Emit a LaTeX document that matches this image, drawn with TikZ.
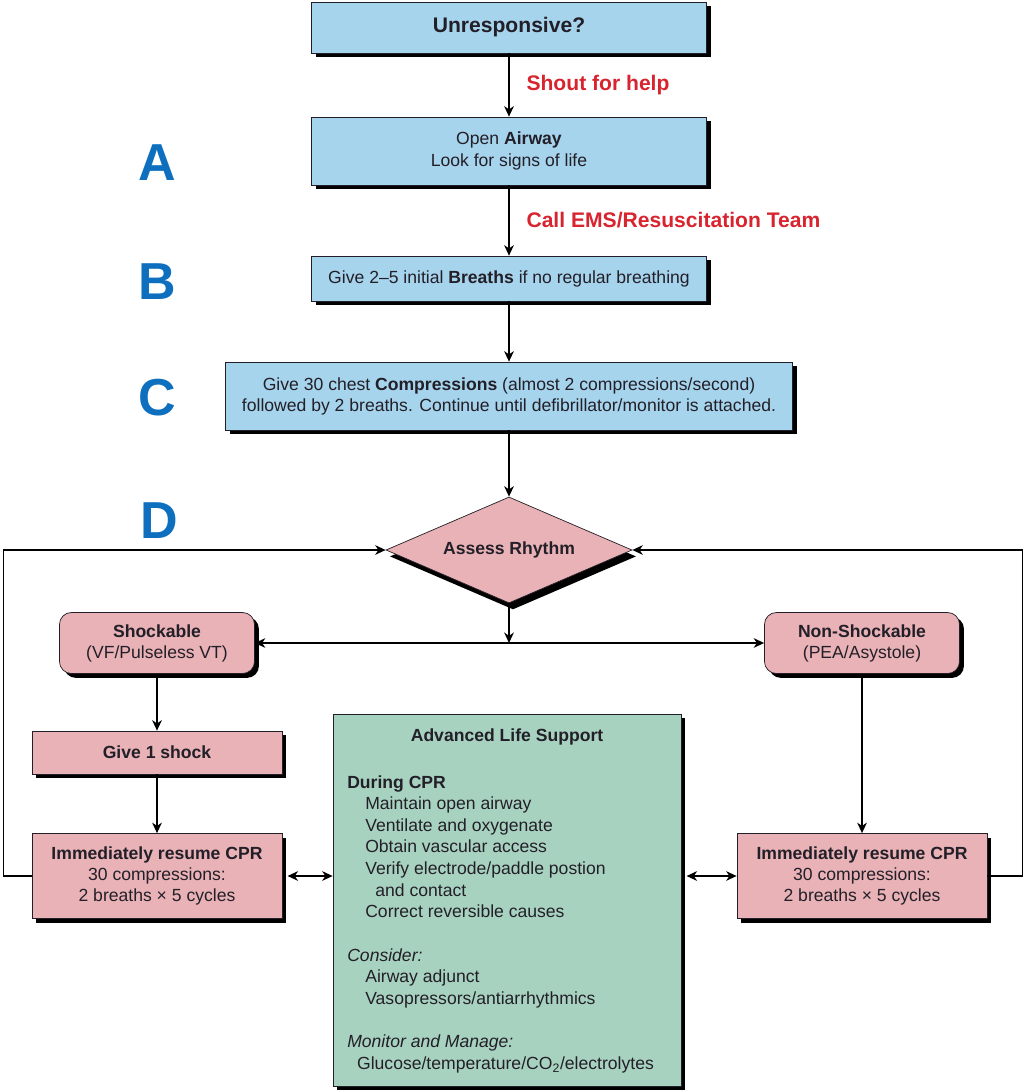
\documentclass[tikz,border=0pt]{standalone}
\usepackage{fontspec}
\setmainfont{Liberation Sans}
\usetikzlibrary{positioning,shapes.geometric,shadows,arrows.meta}
\definecolor{boxblue}{RGB}{166,212,236}
\definecolor{boxpink}{RGB}{232,178,182}
\definecolor{boxgreen}{RGB}{168,210,192}
\definecolor{letterblue}{RGB}{14,111,191}
\definecolor{callred}{RGB}{215,36,47}
\definecolor{ink}{RGB}{35,31,40}

\begin{document}
\begin{tikzpicture}[>={Stealth[length=2.6mm,width=2.4mm,inset=0.8mm]}, x=0.025cm, y=-0.025cm,
    every node/.style={font=\fontsize{12.5}{15}\selectfont, text=ink},
    boxshadow/.style={drop shadow={shadow xshift=0.11cm, shadow yshift=-0.11cm, fill=black, opacity=1}},
    bluebox/.style={draw=ink, line width=0.5pt, fill=boxblue, boxshadow, align=center, inner sep=0pt},
    pinkbox/.style={draw=ink, line width=0.5pt, fill=boxpink, boxshadow, align=center, inner sep=0pt, minimum width=6.25cm},
    pinkround/.style={pinkbox, rounded corners=0.3cm, minimum width=4.875cm, minimum height=1.525cm},
    rhythm/.style={diamond, aspect=2.32, draw=ink, line width=0.5pt, fill=boxpink, inner sep=0pt,
        drop shadow={shadow xshift=0.1cm, shadow yshift=-0.16cm, fill=black, opacity=1},
        minimum width=6.15cm, minimum height=2.65cm, font=\fontsize{12.5}{15}\selectfont\bfseries},
    greenbox/.style={draw=ink, line width=0.5pt, fill=boxgreen, boxshadow, minimum width=8.7cm, minimum height=9.3cm},
    abcd/.style={text=letterblue, font=\fontsize{37}{40}\selectfont\bfseries},
    callout/.style={text=callred, font=\fontsize{15}{18}\selectfont\bfseries},
    conn/.style={line width=1.2pt, draw=black}]
\useasboundingbox (0,0) rectangle (1024,1090);

% the ABCD steps
\node[bluebox, minimum width=9.875cm, minimum height=1.275cm, font=\fontsize{15}{18}\selectfont\bfseries] (unresp) at (509,27.5) {Unresponsive?};
\node[bluebox, minimum width=9.875cm, minimum height=1.7cm] (airway) at (509,151) {Open \textbf{Airway}\\Look for signs of life};
\node[bluebox, minimum width=9.875cm, minimum height=1.125cm] (breaths) at (509,278.5) {Give 2--5 initial \textbf{Breaths} if no regular breathing};
\node[bluebox, minimum width=14.175cm, minimum height=1.7cm] (compr) at (509,396) {Give 30 chest \textbf{Compressions} (almost 2 compressions/second)\\followed by 2 breaths. Continue until defibrillator/monitor is attached.};
\node[rhythm] (assess) at (509,550) {Assess Rhythm};

\node[abcd] (la) at (157,163) {A};
\node[abcd] (lb) at (157,282) {B};
\node[abcd] (lc) at (157,398) {C};
\node[abcd] (ld) at (159,521) {D};

% the two branches
\node[pinkround] (shock) at (157,643) {\textbf{Shockable}\\(VF/Pulseless VT)};
\node[pinkround] (nonshock) at (862,643) {\textbf{Non-Shockable}\\(PEA/Asystole)};
\node[pinkbox, minimum height=1.075cm, font=\fontsize{12.5}{15}\selectfont\bfseries] (give) at (157,752.5) {Give 1 shock};
\node[pinkbox, minimum height=2.125cm] (lcpr) at (157,876) {\textbf{Immediately resume CPR}\\30 compressions:\\2 breaths × 5 cycles};
\node[pinkbox, minimum height=2.125cm] (rcpr) at (862,876) {\textbf{Immediately resume CPR}\\30 compressions:\\2 breaths × 5 cycles};

% advanced life support
\node[greenbox] (als) at (507,900) {};
\node[anchor=base, font=\fontsize{12.5}{15}\selectfont\bfseries] (alstitle) at (507,741) {Advanced Life Support};
\node[anchor=north west, align=left, inner sep=0pt, font=\fontsize{12.5}{15.4}\selectfont] (alsbody) at (347,775) {%
\textbf{During CPR}\\
\hspace*{12.8pt}Maintain open airway\\
\hspace*{12.8pt}Ventilate and oxygenate\\
\hspace*{12.8pt}Obtain vascular access\\
\hspace*{12.8pt}Verify electrode/paddle postion\\
\hspace*{20pt}and contact\\
\hspace*{12.8pt}Correct reversible causes\\[15.4pt]
\textit{Consider:}\\
\hspace*{12.8pt}Airway adjunct\\
\hspace*{12.8pt}Vasopressors/antiarrhythmics\\[15.4pt]
\textit{Monitor and Manage:}\\
\hspace*{7pt}Glucose/temperature/CO\textsubscript{2}/electrolytes};

\draw[conn,->] (unresp) -- node[right=3mm, callout]{Shout for help} (airway);
\draw[conn,->] (airway) -- node[right=3mm, callout]{Call EMS/Resuscitation Team} (breaths);
\draw[conn,->] (breaths) -- (compr);
\draw[conn,->] (compr) -- (assess);
\draw[conn,->] (assess) -- (assess.south |- shock.east);
\draw[conn,<->] (shock) -- (nonshock);
\draw[conn,->] (shock) -- (give);
\draw[conn,->] (give) -- (lcpr);
\draw[conn,->] (nonshock) -- (rcpr);
\draw[conn,<->, shorten <=1.3mm] (lcpr.east) -- (lcpr.east -| als.west);
\draw[conn,<->, shorten <=1.3mm] (rcpr.west -| als.east) -- (rcpr.west);
\draw[conn,->] (lcpr.west) -- ++(-28,0) |- (assess.west);
\draw[conn,->] (rcpr.east) -- ++(35,0) |- (assess.east);

\end{tikzpicture}
\end{document}
